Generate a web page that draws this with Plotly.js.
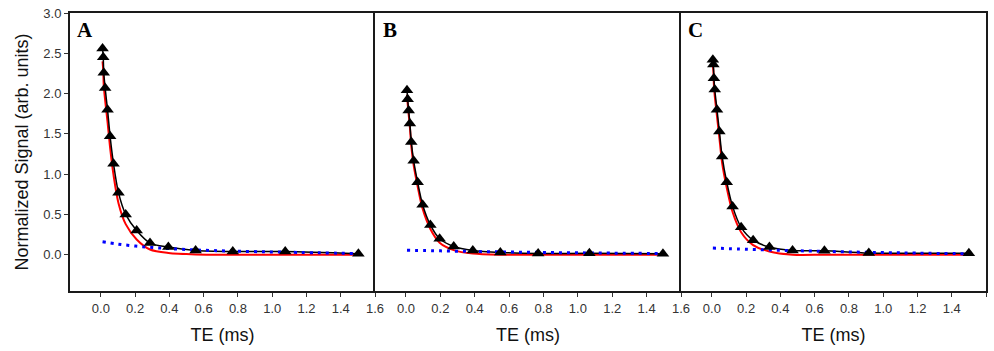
<!DOCTYPE html>
<html>
<head>
<meta charset="utf-8">
<script src="https://cdn.plot.ly/plotly-3.0.1.min.js"></script>
<style>html,body{margin:0;padding:0;background:#fff;}#chart{width:994px;height:351px;}</style>
</head>
<body>
<div id="chart"></div>
<script>
// ---- Data ----
const panelLabels = ["A", "B", "C"];

// Panel A: measured points (triangles)
const teA = [0.010, 0.014, 0.017, 0.025, 0.039, 0.054, 0.074, 0.103, 0.145, 0.209, 0.287, 0.394, 0.553, 0.770, 1.076, 1.503];
const sigA = [2.56, 2.45, 2.26, 2.07, 1.80, 1.47, 1.13, 0.77, 0.50, 0.30, 0.145, 0.095, 0.054, 0.041, 0.040, 0.012];
// Panel A: short-T2 component (red) and long-T2 component (blue dotted)
const redA = [2.40, 2.29, 2.10, 1.92, 1.65, 1.33, 0.99, 0.64, 0.38, 0.19, 0.065, 0.022, 0.004, 0.0, 0.0, 0.0];
const blueXA = [0.010, 0.10, 0.20, 0.30, 0.40, 0.55, 0.77, 1.07, 1.50];
const blueYA = [0.160, 0.132, 0.108, 0.090, 0.076, 0.060, 0.045, 0.032, 0.015];

// Panel B
const teB = [0.006, 0.010, 0.016, 0.023, 0.031, 0.045, 0.068, 0.097, 0.142, 0.196, 0.278, 0.389, 0.549, 0.769, 1.067, 1.495];
const sigB = [2.04, 1.93, 1.79, 1.63, 1.40, 1.165, 0.90, 0.62, 0.37, 0.198, 0.103, 0.054, 0.029, 0.016, 0.018, 0.012];
const redB = [1.985, 1.875, 1.74, 1.58, 1.35, 1.11, 0.85, 0.57, 0.32, 0.15, 0.058, 0.014, 0.0, 0.0, 0.0, 0.0];
const blueXB = [0.006, 0.20, 0.40, 0.60, 0.80, 1.00, 1.20, 1.50];
const blueYB = [0.055, 0.048, 0.040, 0.034, 0.028, 0.024, 0.020, 0.015];

// Panel C
const teC = [0.006, 0.009, 0.012, 0.017, 0.030, 0.044, 0.060, 0.087, 0.121, 0.171, 0.241, 0.336, 0.471, 0.657, 0.916, 1.500];
const sigC = [2.42, 2.36, 2.19, 2.05, 1.80, 1.53, 1.22, 0.90, 0.60, 0.34, 0.18, 0.095, 0.054, 0.050, 0.022, 0.018];
const redC = [2.34, 2.28, 2.11, 1.97, 1.72, 1.45, 1.14, 0.83, 0.53, 0.28, 0.12, 0.04, 0.0, 0.0, 0.0, 0.0];
const blueXC = [0.006, 0.20, 0.40, 0.60, 0.80, 1.00, 1.20, 1.50];
const blueYC = [0.083, 0.068, 0.055, 0.044, 0.035, 0.027, 0.020, 0.012];

const xTickVals = [0.0, 0.2, 0.4, 0.6, 0.8, 1.0, 1.2, 1.4, 1.6];
const yTickVals = [0.0, 0.5, 1.0, 1.5, 2.0, 2.5, 3.0];
const xTitle = "TE (ms)";
const yTitle = "Normalized Signal (arb. units)";

// ---- Build traces ----
const panels = [
  {te: teA, sig: sigA, red: redA, bx: blueXA, by: blueYA},
  {te: teB, sig: sigB, red: redB, bx: blueXB, by: blueYB},
  {te: teC, sig: sigC, red: redC, bx: blueXC, by: blueYC}
];

const traces = [];
panels.forEach((p, i) => {
  const xa = i === 0 ? 'x' : 'x' + (i + 1);
  const ya = i === 0 ? 'y' : 'y' + (i + 1);
  traces.push({x: p.te, y: p.red, xaxis: xa, yaxis: ya, mode: 'lines',
    line: {color: '#ff0000', width: 2, shape: 'spline', smoothing: 0.8}, hoverinfo: 'skip', showlegend: false});
  traces.push({x: p.te, y: p.sig, xaxis: xa, yaxis: ya, mode: 'lines',
    line: {color: '#000000', width: 1.5, shape: 'spline', smoothing: 0.8}, hoverinfo: 'skip', showlegend: false});
  traces.push({x: p.bx, y: p.by, xaxis: xa, yaxis: ya, mode: 'lines',
    line: {color: '#0000ff', width: 3, dash: '3px,5px', shape: 'spline'}, hoverinfo: 'skip', showlegend: false});
  traces.push({x: p.te, y: p.sig, xaxis: xa, yaxis: ya, mode: 'markers',
    marker: {symbol: 'triangle-up', size: 11, color: '#000000'}, showlegend: false});
});

// ---- Layout ----
const W = 994, ml = 70, mr = 8;
const pw = W - ml - mr;
const edges = [0, 305 / pw, 611 / pw, 1];
const tickFont = {family: 'Arial, Liberation Sans, sans-serif', size: 13, color: '#333333'};
const titleFont = {family: 'Arial, Liberation Sans, sans-serif', size: 18, color: '#111111'};

const layout = {
  width: 994, height: 351,
  margin: {l: ml, r: mr, t: 13, b: 60},
  paper_bgcolor: '#ffffff', plot_bgcolor: '#ffffff',
  showlegend: false,
  annotations: []
};

for (let i = 0; i < 3; i++) {
  const sx = i === 0 ? '' : String(i + 1);
  layout['xaxis' + sx] = {
    domain: [edges[i], edges[i + 1]], range: [-0.18, 1.6], anchor: 'y' + sx,
    showline: true, linecolor: '#1a1a1a', linewidth: 2, mirror: true,
    ticks: 'outside', ticklen: 4, tickwidth: 1, tickcolor: '#333333',
    tickvals: xTickVals, tickformat: '.1f', tickfont: tickFont,
    showgrid: false, zeroline: false,
    title: {text: xTitle, font: titleFont, standoff: 14}
  };
  layout['yaxis' + sx] = {
    domain: [0, 1], range: [-0.45, 3.0], anchor: 'x' + sx,
    showline: true, linecolor: '#1a1a1a', linewidth: 2, mirror: i === 2,
    showgrid: false, zeroline: false,
    ticks: i === 0 ? 'outside' : '', ticklen: 4, tickwidth: 1, tickcolor: '#333333',
    tickvals: yTickVals, tickformat: '.1f', tickfont: tickFont,
    showticklabels: i === 0,
    title: i === 0 ? {text: yTitle, font: titleFont, standoff: 10} : {text: ''}
  };
  layout.annotations.push({
    text: '<b>' + panelLabels[i] + '</b>', showarrow: false,
    xref: 'x' + sx + ' domain', yref: 'y' + sx + ' domain',
    x: 0.018, y: 1, xanchor: 'left', yanchor: 'top', yshift: -3,
    font: {family: 'Times New Roman, Liberation Serif, serif', size: 21, color: '#000000'}
  });
}

Plotly.newPlot('chart', traces, layout, {staticPlot: true, displayModeBar: false});
</script>
</body>
</html>
